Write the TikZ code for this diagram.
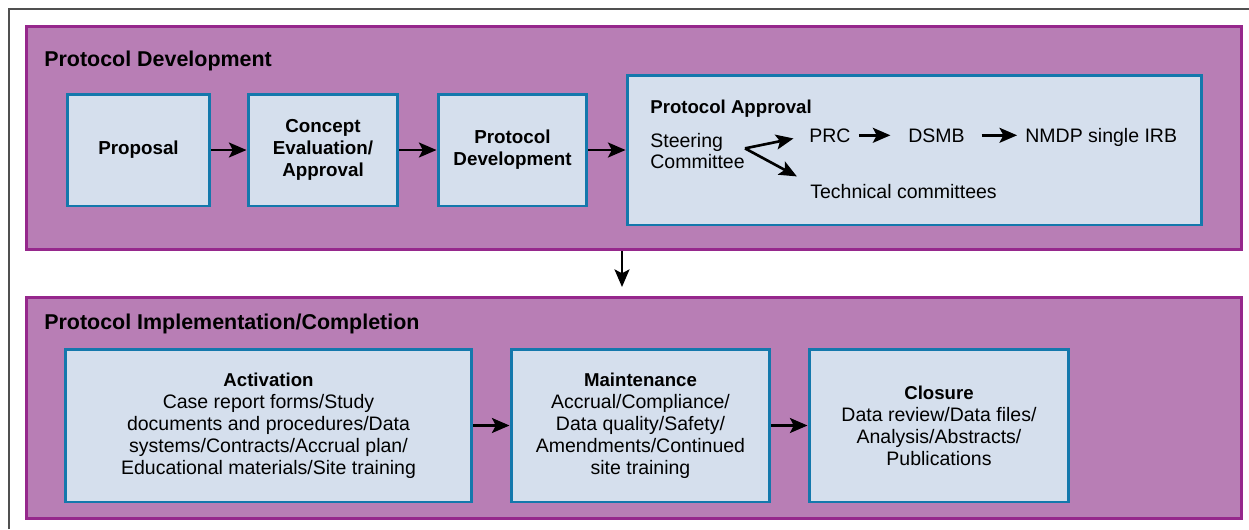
\documentclass[tikz,border=0pt]{standalone}
\usepackage{fontspec}
\setmainfont{Liberation Sans}
\usetikzlibrary{arrows.meta}

\definecolor{panelfill}{RGB}{184,126,181}
\definecolor{paneldraw}{RGB}{150,40,140}
\definecolor{boxfill}{RGB}{213,223,237}
\definecolor{boxdraw}{RGB}{20,120,172}
\definecolor{framegray}{RGB}{80,80,80}

\newcommand{\hd}[1]{{\fontsize{10.6}{12.5}\selectfont\bfseries #1}}

\begin{document}
\begin{tikzpicture}
[
  x=0.02cm, y=-0.02cm,
  panel/.style = {draw=paneldraw, fill=panelfill, line width=1.7pt, minimum width=24.32cm, inner sep=0},
  stage/.style = {draw=boxdraw, fill=boxfill, line width=1.7pt, align=center, inner sep=0,
                  font=\fontsize{11.1}{12.5}\selectfont},
  boldstage/.style = {stage, font=\fontsize{10.7}{12.5}\selectfont\bfseries},
  word/.style = {inner sep=0, font=\fontsize{11.1}{12.5}\selectfont},
  heading/.style = {inner sep=0, anchor=base west, font=\fontsize{12.2}{14}\selectfont\bfseries},
  arr/.style = {-{Stealth[length=10pt,width=8.5pt,inset=2.2pt]}, line width=1.5pt},
]
\def\bh{2.24cm}
\def\lh{3.06cm}

\useasboundingbox (0,0) rectangle (1249,529);

%frame
\draw[framegray, line width=1pt] (9,529) -- (9,9) -- (1249,9);

%panels
\node[panel, minimum height=4.48cm] (devpanel) at (634,138) {};
\node[panel, minimum height=4.44cm] (implpanel) at (634,408) {};
\node[heading] (devtitle) at (44,66) {Protocol Development};
\node[heading] (impltitle) at (44,329) {Protocol Implementation/Completion};

%development row
\node[boldstage, minimum width=2.86cm, minimum height=\bh] (prop) at (138.5,150) {Proposal};
\node[boldstage, minimum width=3.0cm, minimum height=\bh] (concept) at (323,150) {Concept\\Evaluation/\\Approval};
\node[boldstage, minimum width=2.98cm, minimum height=\bh] (protdev) at (512.5,150) {Protocol\\Development};
\node[stage, minimum width=11.5cm, minimum height=3.0cm] (approval) at (914.5,150) {};

%inside the approval box
\node[heading, font=\fontsize{10.6}{12.5}\selectfont\bfseries] (apptitle) at (650,113) {Protocol Approval};
\node[word, align=left, anchor=west] (steer) at (650,151) {Steering\\Committee};
\node[word, anchor=base west] (prc) at (809,142) {PRC};
\node[word, anchor=base west] (dsmb) at (908,142) {DSMB};
\node[word, anchor=base west] (nmdp) at (1025,142) {NMDP single IRB};
\node[word, anchor=base west] (tech) at (810,198) {Technical committees};

\draw[arr, shorten >=9pt] ([yshift=1.5pt]steer.east) -- (prc.west);
\draw[arr, shorten >=8.5pt] ([yshift=1.5pt]steer.east) -- (tech.north west);
\draw[arr, shorten <=4.5pt, shorten >=10pt] (prc.east) -- (dsmb.west);
\draw[arr, shorten <=9.5pt, shorten >=4.5pt] (dsmb.east) -- (dsmb.east -| nmdp.west);

%implementation row
\node[stage, minimum width=8.14cm, minimum height=\lh] (activation) at (268.5,425.5)
  {\hd{Activation}\\Case report forms/Study\\documents and procedures/Data\\systems/Contracts/Accrual plan/\\Educational materials/Site training};
\node[stage, minimum width=5.18cm, minimum height=\lh] (maint) at (640.5,425.5)
  {\hd{Maintenance}\\Accrual/Compliance/\\Data quality/Safety/\\Amendments/Continued\\site training};
\node[stage, minimum width=5.2cm, minimum height=\lh] (closure) at (939,425.5)
  {\hd{Closure}\\Data review/Data files/\\Analysis/Abstracts/\\Publications};

%arrows between stages
\draw[arr] (prop) -- (concept);
\draw[arr] (concept) -- (protdev);
\draw[arr] (protdev) -- (approval);
\draw[arr] (activation) -- (maint);
\draw[arr] (maint) -- (closure);

\coordinate (gap) at (622,287);
\draw[arr] (devpanel.south -| gap) -- (gap);
\end{tikzpicture}
\end{document}
